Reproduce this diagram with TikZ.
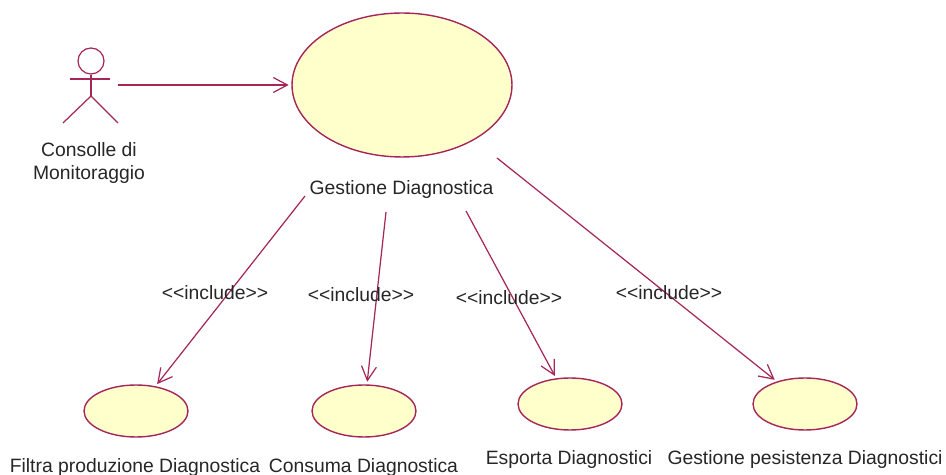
\documentclass[tikz,border=0pt]{standalone}
\usepackage{fontspec}
\setmainfont{Liberation Sans}
\usetikzlibrary{shapes.geometric,arrows.meta}
\definecolor{umlline}{HTML}{A5265A}
\definecolor{umlfill}{HTML}{FFFFCC}
\tikzset{
	usecase/.style={ellipse,draw=umlline,fill=umlfill,line width=0.8pt,inner sep=0pt,minimum width=2.08cm,minimum height=1.04cm},
	assoc/.style={draw=umlline,line width=0.7pt,shorten >=1.5pt,-{Straight Barb[length=8pt,width=8.5pt]}},
	lbl/.style={text=black!85,font=\fontsize{11}{13.6}\selectfont,inner sep=0pt}
}
\newcommand{\incl}{{<}{<}include{>}{>}}
\begin{document}
\begin{tikzpicture}[x=0.02cm,y=-0.02cm,line join=round]
	\useasboundingbox (0,0) rectangle (946,475);
	\node[usecase,minimum width=4.4cm,minimum height=2.88cm] (main) at (402,85){};
	\node[usecase] (filtra) at (136,411){};
	\node[usecase] (consuma) at (364,411){};
	\node[usecase] (esporta) at (570,404){};
	\node[usecase] (persist) at (805,404){};
	% actor
	\node[circle,draw=umlline,line width=0.7pt,inner sep=0pt,minimum size=0.52cm] (head) at (91,61){};
	\coordinate (hip) at (91,96);
	\coordinate (armL) at (70,79);
	\coordinate (armR) at (110,79);
	\coordinate (legL) at (63,123);
	\coordinate (legR) at (118,123);
	\draw[umlline,line width=0.7pt] (head.south) -- (hip);
	\draw[umlline,line width=0.7pt] (armL) -- (armR);
	\draw[umlline,line width=0.7pt] (legL) -- (hip) -- (legR);
	% free ends of the connectors
	\coordinate (start0) at (118,85);
	\coordinate (start1) at (305,196);
	\coordinate (start2) at (386,212);
	\coordinate (start3) at (466,211);
	\coordinate (start4) at (497,158);
	\draw[assoc] (start0) -- (main);
	\draw[assoc] (start1) -- (filtra);
	\draw[assoc] (start2) -- (consuma);
	\draw[assoc] (start3) -- (esporta);
	\draw[assoc] (start4) -- (persist);
	% labels
	\node[lbl,align=center] (actorlbl) at (89,163){Consolle di\\Monitoraggio};
	\node[lbl] (mainlbl) at (401.5,190){Gestione Diagnostica};
	\node[lbl] (filtralbl) at (135,468){Filtra produzione Diagnostica};
	\node[lbl] (consumalbl) at (363.5,468){Consuma Diagnostica};
	\node[lbl] (esportalbl) at (569,460){Esporta Diagnostici};
	\node[lbl] (persistlbl) at (805,460){Gestione pesistenza Diagnostici};
	\node[lbl] (incl1) at (215,293){\incl};
	\node[lbl] (incl2) at (361,295){\incl};
	\node[lbl] (incl3) at (509,298){\incl};
	\node[lbl] (incl4) at (669,293){\incl};
\end{tikzpicture}
\end{document}
